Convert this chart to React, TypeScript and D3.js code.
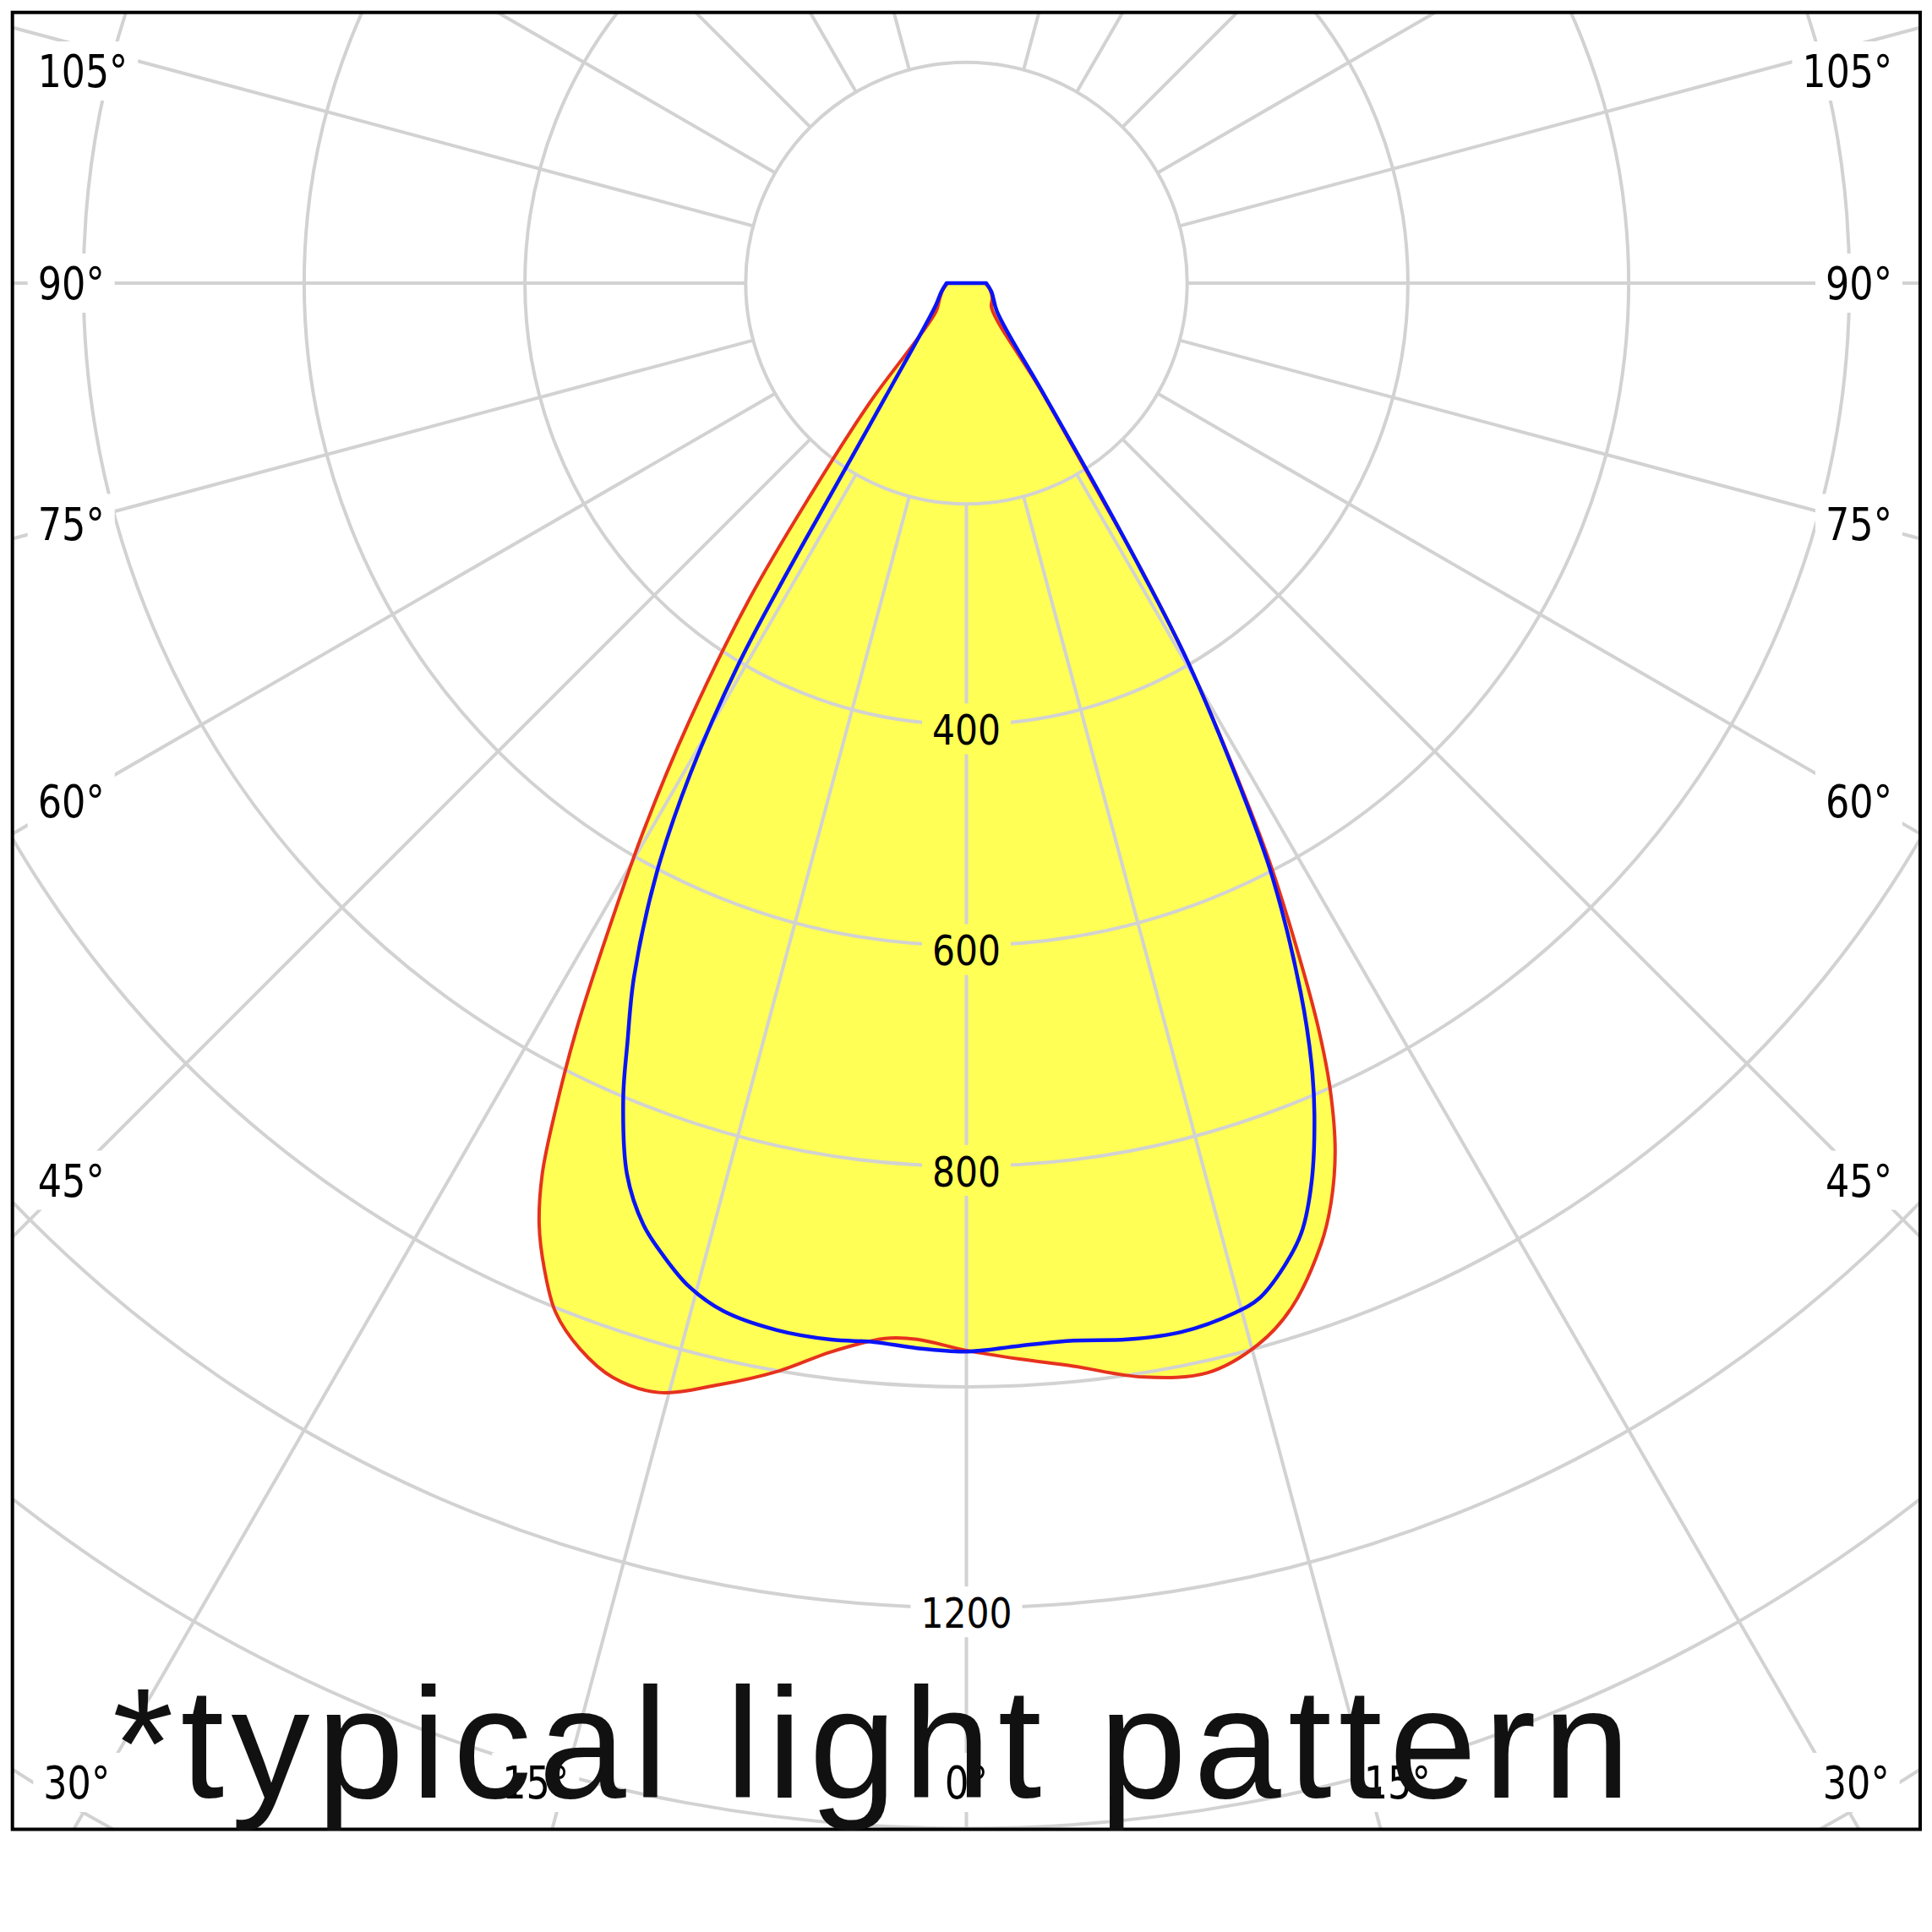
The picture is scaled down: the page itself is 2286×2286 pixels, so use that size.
import React, { useEffect, useRef } from 'react';
import * as d3 from 'd3';

const W = 2286;
const H = 2286;

// C0-C180 plane (red). Signed angle from nadir in degrees (negative = left), intensity in cd
const redAngles = [-90, -75, -60, -46.8, -38.97, -36.3, -34.5, -32.3, -30.5, -28.9, -27.6, -26.45, -25.46, -24.4, -23.2, -21.76, -19.94, -17.89, -15.5, -12.67, -9.77, -7.22, -4.42, -2.67, 0, 2.83, 5.64, 9.2, 12.5, 15.4, 17.6, 20.26, 21.6, 23.0, 24.27, 25.28, 26.3, 27.66, 28.77, 30.18, 31.24, 32.24, 34.9, 45.5, 60, 75, 90];
const redValues = [17, 22, 28, 38, 139, 240, 347, 471, 577, 673, 762, 835, 894, 937, 971, 1004, 1027, 1042, 1043, 1023, 1000, 976, 959, 958, 967, 976, 986, 1004, 1011, 997, 974, 928, 897, 855, 802, 747, 680, 591, 507, 407, 320, 222, 116, 32, 27, 22, 17];

// C90-C270 plane (blue)
const blueAngles = [-90, -71, -53.5, -35.39, -32.8, -31.75, -30.88, -29.37, -27.72, -25.6, -24.04, -22.84, -20.85, -18.93, -17.3, -15.47, -13.3, -10.26, -7.3, -4.98, -2.65, 0, 2.87, 5.78, 8.66, 11.57, 14.63, 16.12, 17.92, 19.45, 21.02, 22.7, 23.83, 25.24, 27.28, 28.49, 30.33, 31.32, 32.57, 34.96, 47.03, 71, 90];
const blueValues = [18, 24, 35, 127, 219, 311, 402, 510, 603, 697, 754, 801, 864, 902, 923, 943, 957, 964, 965, 963, 966, 968, 964, 963, 968, 970, 964, 957, 936, 912, 872, 817, 774, 710, 604, 521, 396, 306, 213, 120, 38, 24, 18];

const ringValues = [200, 400, 600, 800, 1000, 1200, 1400, 1600, 1800];
const valueTickLabels = [400, 600, 800, 1200];
const spokeAngles = [0, 15, 30, 45, 60, 75, 90, 105, 120, 135, 150, 165, 195, 210, 225, 240, 255, 270, 285, 300, 315, 330, 345];
const sideAngleLabels = [105, 90, 75, 60, 45];
const bottomAngleLabels = [30, 15, 0];
const footnote = '*typical light pattern';

export default function App() {
  const ref = useRef<SVGSVGElement>(null);

  useEffect(() => {
    const svg = d3.select(ref.current);
    svg.selectAll('*').remove();

    const cx = 1143.5;
    const cy = 335;
    const frame = { x: 14.7, y: 14.7, w: 2257.3, h: 2149.8 };
    const r = d3.scaleLinear().domain([0, 1000]).range([0, 1306]);
    const rad = Math.PI / 180;

    svg.append('rect').attr('width', W).attr('height', H).attr('fill', '#ffffff');

    const defs = svg.append('defs');
    defs.append('clipPath').attr('id', 'frameClip')
      .append('rect').attr('x', frame.x).attr('y', frame.y).attr('width', frame.w).attr('height', frame.h);
    const mask = defs.append('mask').attr('id', 'gridMask')
      .attr('maskUnits', 'userSpaceOnUse').attr('x', 0).attr('y', 0).attr('width', W).attr('height', H);
    mask.append('rect').attr('width', W).attr('height', H).attr('fill', '#fff');

    const series = [
      { angles: redAngles, values: redValues, color: '#e6321e', width: 4 },
      { angles: blueAngles, values: blueValues, color: '#0a14f5', width: 4.5 },
    ];

    const radial = d3.lineRadial<[number, number]>()
      .angle((d) => Math.PI - d[0] * rad)
      .radius((d) => r(d[1]))
      .curve(d3.curveCatmullRom.alpha(0.5));

    const paths = series.map((s) => radial(s.angles.map((a, i) => [a, s.values[i]] as [number, number])) + 'Z');

    // fills
    const fillG = svg.append('g').attr('clip-path', 'url(#frameClip)')
      .append('g').attr('transform', `translate(${cx},${cy})`);
    paths.forEach((p) => fillG.append('path').attr('d', p).attr('fill', '#ffff55').attr('stroke', 'none'));

    // grid
    const gridG = svg.append('g').attr('clip-path', 'url(#frameClip)').attr('mask', 'url(#gridMask)');
    gridG.selectAll('circle.ring').data(ringValues).enter().append('circle')
      .attr('cx', cx).attr('cy', cy).attr('r', (d) => r(d))
      .attr('fill', 'none').attr('stroke', '#d2d2d2').attr('stroke-width', 4);
    gridG.selectAll('line.spoke').data(spokeAngles).enter().append('line')
      .attr('x1', (a) => cx + Math.sin(a * rad) * r(200))
      .attr('y1', (a) => cy + Math.cos(a * rad) * r(200))
      .attr('x2', (a) => cx + Math.sin(a * rad) * r(2200))
      .attr('y2', (a) => cy + Math.cos(a * rad) * r(2200))
      .attr('stroke', '#d2d2d2').attr('stroke-width', 4);

    // curves
    const lineG = svg.append('g').attr('clip-path', 'url(#frameClip)')
      .append('g').attr('transform', `translate(${cx},${cy})`);
    series.forEach((s, i) => lineG.append('path').attr('d', paths[i]).attr('fill', 'none')
      .attr('stroke', s.color).attr('stroke-width', s.width).attr('stroke-linejoin', 'round'));

    // frame
    svg.append('rect').attr('x', frame.x).attr('y', frame.y).attr('width', frame.w).attr('height', frame.h)
      .attr('fill', 'none').attr('stroke', '#000').attr('stroke-width', 4);

    const labelFont = "'DejaVu Sans', Verdana, sans-serif";

    // value labels
    const vfs = 49;
    valueTickLabels.forEach((v) => {
      const txt = String(v);
      const tw = txt.length * 27;
      const yc = cy + r(v) + 6;
      mask.append('rect').attr('x', cx - tw / 2 - 12).attr('y', yc - 31).attr('width', tw + 24).attr('height', 60).attr('fill', '#000');
      svg.append('text').attr('x', cx).attr('y', yc + 0.3645 * vfs)
        .attr('text-anchor', 'middle').attr('font-family', labelFont).attr('font-size', vfs)
        .attr('textLength', tw).attr('lengthAdjust', 'spacingAndGlyphs').attr('fill', '#000').text(txt);
    });

    // angle labels
    const afs = 53;
    const addAngleLabel = (txt: string, x: number, yc: number, anchor: string) => {
      const tw = (txt.length - 1) * 27.5 + 24;
      const left = anchor === 'start' ? x : anchor === 'end' ? x - tw : x - tw / 2;
      mask.append('rect').attr('x', left - 12).attr('y', yc - 35).attr('width', tw + 24).attr('height', 70).attr('fill', '#000');
      svg.append('text').attr('x', x).attr('y', yc + 0.3645 * afs)
        .attr('text-anchor', anchor).attr('font-family', labelFont).attr('font-size', afs)
        .attr('textLength', tw).attr('lengthAdjust', 'spacingAndGlyphs').attr('fill', '#000').text(txt);
    };
    const leftX = frame.x + 30;
    const rightX = frame.x + frame.w - 33;
    sideAngleLabels.forEach((a) => {
      const yc = Math.max(84, cy + (cx - 82) * Math.cos(a * rad) / Math.sin(a * rad));
      addAngleLabel(`${a}°`, leftX, yc, 'start');
      addAngleLabel(`${a}°`, rightX, yc, 'end');
    });
    const bottomY = 2109;
    bottomAngleLabels.forEach((a) => {
      if (a === 0) {
        addAngleLabel(`${a}°`, cx, bottomY, 'middle');
      } else {
        const dx = (2090 - cy) * Math.tan(a * rad);
        addAngleLabel(`${a}°`, cx - dx, bottomY, 'end');
        addAngleLabel(`${a}°`, cx + dx, bottomY, 'start');
      }
    });

    // footnote
    svg.append('text').attr('x', 133).attr('y', 2127)
      .attr('font-family', "'Liberation Sans', Arial, Helvetica, sans-serif").attr('font-size', 186)
      .attr('textLength', 1796).attr('lengthAdjust', 'spacing')
      .attr('fill', '#111').text(footnote);
  }, []);

  return (
    <svg ref={ref} width={W} height={H} style={{ position: 'absolute', left: 0, top: 0, display: 'block' }} />
  );
}
